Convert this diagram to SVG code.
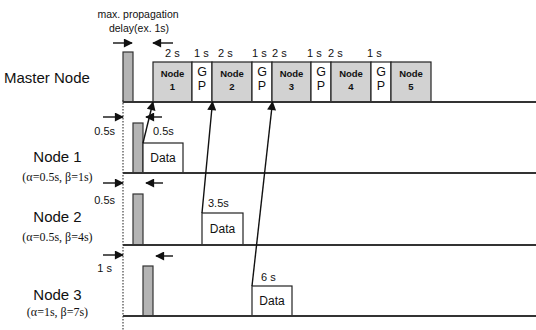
<svg xmlns="http://www.w3.org/2000/svg" width="536" height="330" viewBox="0 0 536 330">
<defs>
<style>
.t{font-family:"Liberation Sans",Arial,sans-serif;fill:#111}
.s{font-family:"Liberation Serif","Times New Roman",serif;fill:#111}
.nb{fill:#d2d2d2;stroke:#222;stroke-width:1.2}
.gp{fill:#fff;stroke:#222;stroke-width:1.2}
.bar{fill:#b4b4b4;stroke:#333;stroke-width:1.2}
.box{fill:#fff;stroke:#222;stroke-width:1.2}
.base{stroke:#333;stroke-width:2;fill:none}
.arr{stroke:#111;stroke-width:1.4;fill:none;marker-end:url(#ah)}
</style>
<marker id="ah" viewBox="0 0 10 10" refX="9" refY="5" markerWidth="10" markerHeight="9" orient="auto" markerUnits="userSpaceOnUse">
<path d="M0,0 L10,5 L0,10 Z" fill="#111"/>
</marker>
</defs>

<g id="header">
<text class="t" x="138" y="18" font-size="10.5" text-anchor="middle">max. propagation</text>
<text class="t" x="139" y="32" font-size="10.5" text-anchor="middle">delay(ex. 1s)</text>
<g class="t" font-size="11">
<text x="165" y="57">2 s</text><text x="194" y="57">1 s</text>
<text x="218" y="57">2 s</text><text x="252" y="57">1 s</text>
<text x="272" y="57">2 s</text><text x="307" y="57">1 s</text>
<text x="328" y="57">2 s</text><text x="367" y="57">1 s</text>
</g>
</g>

<g id="master">
<text class="t" x="4" y="83" font-size="15">Master Node</text>
<rect class="bar" x="123" y="52" width="10" height="50"/>
<rect class="nb" x="153" y="62" width="39" height="40"/>
<rect class="gp" x="192" y="62" width="20" height="40"/>
<rect class="nb" x="212" y="62" width="40" height="40"/>
<rect class="gp" x="252" y="62" width="20" height="40"/>
<rect class="nb" x="272" y="62" width="39" height="40"/>
<rect class="gp" x="311" y="62" width="20" height="40"/>
<rect class="nb" x="331" y="62" width="40" height="40"/>
<rect class="gp" x="371" y="62" width="20" height="40"/>
<rect class="nb" x="391" y="62" width="40" height="40"/>
<g class="t" font-size="9.5" font-weight="bold" text-anchor="middle">
<text x="172.5" y="77">Node</text><text x="172.5" y="90">1</text>
<text x="232" y="77">Node</text><text x="232" y="90">2</text>
<text x="291.5" y="77">Node</text><text x="291.5" y="90">3</text>
<text x="351" y="77">Node</text><text x="351" y="90">4</text>
<text x="411" y="77">Node</text><text x="411" y="90">5</text>
</g>
<g class="t" font-size="12.5" text-anchor="middle">
<text x="202" y="76">G</text><text x="202" y="90">P</text>
<text x="262" y="76">G</text><text x="262" y="90">P</text>
<text x="321" y="76">G</text><text x="321" y="90">P</text>
<text x="381" y="76">G</text><text x="381" y="90">P</text>
</g>
</g>

<g id="node1">
<text class="t" x="57.5" y="162" font-size="15" text-anchor="middle">Node 1</text>
<text class="s" x="57.5" y="181" font-size="12" text-anchor="middle">(α=0.5s, β=1s)</text>
<text class="t" x="115" y="135" font-size="11" text-anchor="end">0.5s</text>
<text class="t" x="153" y="135" font-size="11">0.5s</text>
<rect class="bar" x="133" y="123" width="10" height="50"/>
<rect class="box" x="143" y="143" width="40" height="30"/>
<text class="t" x="163" y="162" font-size="12" text-anchor="middle">Data</text>
</g>

<g id="node2">
<text class="t" x="57.5" y="222" font-size="15" text-anchor="middle">Node 2</text>
<text class="s" x="57.5" y="241" font-size="12" text-anchor="middle">(α=0.5s, β=4s)</text>
<text class="t" x="115" y="204" font-size="11" text-anchor="end">0.5s</text>
<text class="t" x="208" y="207" font-size="11">3.5s</text>
<rect class="bar" x="133" y="194" width="10" height="51"/>
<rect class="box" x="202" y="213" width="41" height="32"/>
<text class="t" x="222.5" y="233" font-size="12" text-anchor="middle">Data</text>
</g>

<g id="node3">
<text class="t" x="57.5" y="300" font-size="15" text-anchor="middle">Node 3</text>
<text class="s" x="57.5" y="316" font-size="12" text-anchor="middle">(α=1s, β=7s)</text>
<text class="t" x="112" y="272" font-size="11" text-anchor="end">1 s</text>
<text class="t" x="261" y="281" font-size="11">6 s</text>
<rect class="bar" x="143" y="266" width="10" height="50"/>
<rect class="box" x="252" y="286" width="40" height="30"/>
<text class="t" x="272" y="305" font-size="12" text-anchor="middle">Data</text>
</g>

<g id="connectors">
<line x1="123" y1="100" x2="123" y2="330" stroke="#444" stroke-width="1.2" stroke-dasharray="1.5,1.5"/>
<line class="base" x1="123" y1="102" x2="536" y2="102"/>
<line class="base" x1="123" y1="173" x2="536" y2="173"/>
<line class="base" x1="123" y1="245" x2="536" y2="245"/>
<line class="base" x1="123" y1="316" x2="536" y2="316"/>
<line class="arr" x1="113" y1="43" x2="132" y2="43"/>
<line class="arr" x1="173" y1="43" x2="153" y2="43"/>
<line class="arr" x1="103" y1="117" x2="123" y2="117"/>
<line class="arr" x1="162" y1="117" x2="146" y2="117"/>
<line class="arr" x1="103" y1="183" x2="123" y2="183"/>
<line class="arr" x1="163" y1="183" x2="146" y2="183"/>
<line class="arr" x1="103" y1="255" x2="123" y2="255"/>
<line class="arr" x1="173" y1="256" x2="156" y2="256"/>
<line class="arr" x1="143" y1="143" x2="153" y2="102"/>
<line class="arr" x1="202" y1="213" x2="212.5" y2="102"/>
<line class="arr" x1="252" y1="286" x2="272.5" y2="102"/>
</g>
</svg>
